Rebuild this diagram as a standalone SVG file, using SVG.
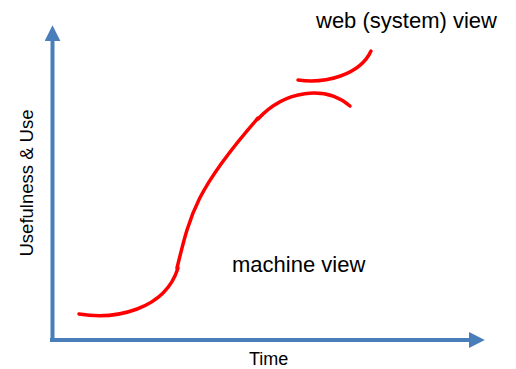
<svg xmlns="http://www.w3.org/2000/svg" width="516" height="369" viewBox="0 0 516 369">
<style>
.lbl{font-family:"Liberation Sans",Arial,sans-serif;font-size:22px;fill:#000}
.axis{stroke:#4a7ebb;stroke-width:4;fill:none}
.curve{stroke:#ff0000;stroke-width:3.5;fill:none;stroke-linecap:round}
</style>
<defs>
<marker id="ah" viewBox="0 0 10 10" refX="2" refY="5" markerWidth="4" markerHeight="4" markerUnits="strokeWidth" orient="auto">
<path d="M0,0 L10,5 L0,10 z" fill="#4a7ebb"/>
</marker>
</defs>
<rect width="516" height="369" fill="#fff"/>
<g id="connectors">
<path class="axis" d="M52.5,338 L52.5,38" marker-end="url(#ah)"/>
<path class="axis" d="M50,340 L472,340" marker-end="url(#ah)"/>
</g>
<g id="curve-machine">
<path class="curve" d="M79,314 C115,320 165,310 178,268"/>
<path class="curve" d="M177,268 C190,215 195,190 258,118"/>
<path class="curve" d="M258,119 C285,90 325,85 350,106"/>
</g>
<g id="curve-web">
<path class="curve" d="M298,80 C325,84 360,75 371,51"/>
</g>
<g id="labels">
<text class="lbl" x="249" y="365" style="font-size:18px">Time</text>
<text class="lbl" x="316" y="28">web (system) view</text>
<text class="lbl" x="232" y="272">machine view</text>
<text class="lbl" transform="translate(33,183) rotate(-90)" text-anchor="middle" style="font-size:18.5px">Usefulness &amp; Use</text>
</g>
</svg>
